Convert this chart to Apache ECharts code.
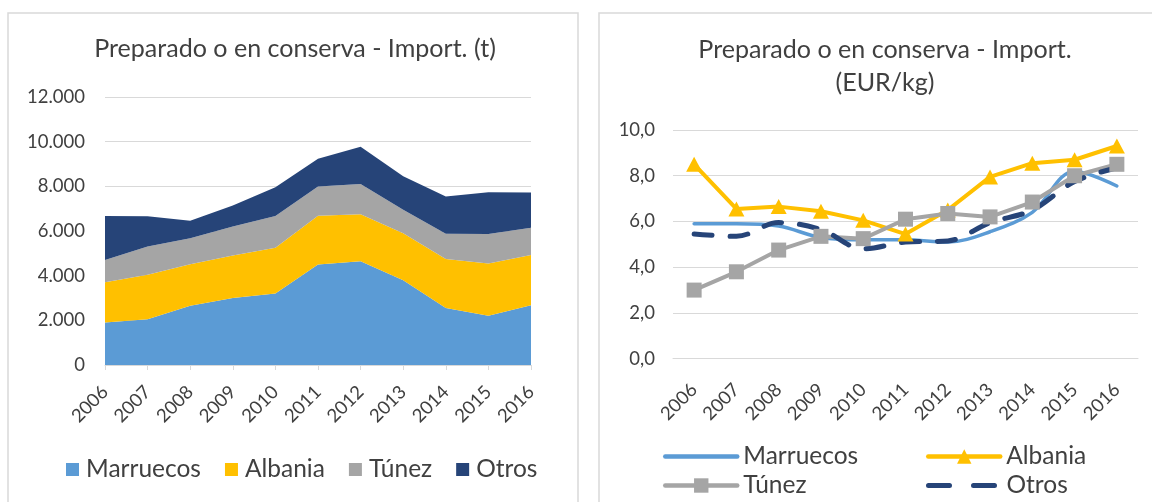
<!DOCTYPE html>
<html>
<head>
<meta charset="utf-8">
<script src="https://cdn.jsdelivr.net/npm/echarts@6/dist/echarts.min.js"></script>
<style>
html,body{margin:0;padding:0;background:#fff;}
#wrap{position:relative;width:1152px;height:502px;}
.layer{position:absolute;left:0;top:0;width:1152px;height:502px;}
</style>
</head>
<body>
<div id="wrap"><div id="left" class="layer"></div><div id="right" class="layer"></div></div>
<script>
// ---- data ----
const years = ['2006','2007','2008','2009','2010','2011','2012','2013','2014','2015','2016'];
const seriesNames = ['Marruecos','Albania','Túnez','Otros'];

// Left chart: imports in tonnes (stacked area)
const tonMarruecos = [1900, 2050, 2650, 3000, 3200, 4500, 4650, 3800, 2550, 2200, 2680];
const tonAlbania   = [1800, 1990, 1860, 1900, 2050, 2180, 2100, 2100, 2200, 2350, 2250];
const tonTunez     = [1000, 1270, 1170, 1300, 1420, 1310, 1350, 1050, 1130, 1320, 1210];
const tonOtros     = [1970, 1345,  780,  940, 1290, 1240, 1670, 1500, 1670, 1870, 1580];

// Right chart: price EUR/kg
const eurMarruecos = [5.9, 5.9, 5.8, 5.3, 5.2, 5.2, 5.1, 5.55, 6.4, 8.2, 7.55];
const eurAlbania   = [8.5, 6.55, 6.65, 6.45, 6.05, 5.45, 6.5, 7.95, 8.55, 8.7, 9.3];
const eurTunez     = [3.0, 3.8, 4.75, 5.35, 5.25, 6.1, 6.35, 6.2, 6.85, 8.0, 8.5];
const eurOtros     = [5.45, 5.35, 5.95, 5.65, 4.8, 5.1, 5.15, 5.95, 6.5, 7.75, 8.35];

const leftTitle = 'Preparado o en conserva - Import. (t)';
const rightTitle1 = 'Preparado o en conserva - Import.';
const rightTitle2 = '(EUR/kg)';

// ---- styling ----
const FONT = 'Lato';
const colors = ['#5B9BD5', '#FFC000', '#A5A5A5', '#264478'];
const textColor = '#404040';
const gridColor = '#D9D9D9';

function fitSize(text, width) {
  const ctx = document.createElement('canvas').getContext('2d');
  ctx.font = '100px ' + FONT;
  return width / ctx.measureText(text).width * 100;
}
const titleSize = fitSize(leftTitle, 402);
const legendSize = fitSize('Marruecos', 115);
const axisSize = fitSize('12.000', 58);

function titleText(text, x, y) {
  return {type: 'text', x: x, y: y,
    style: {text: text, fontFamily: FONT, fontSize: titleSize, fill: textColor, align: 'center', verticalAlign: 'middle'}};
}

// ---------- left chart ----------
const leftChart = echarts.init(document.getElementById('left'), null, {renderer: 'canvas'});
const areaSeries = [tonMarruecos, tonAlbania, tonTunez, tonOtros].map((d, i) => ({
  name: seriesNames[i], type: 'line', stack: 'ton', data: d, symbol: 'none',
  lineStyle: {width: 0}, areaStyle: {color: colors[i], opacity: 1}, itemStyle: {color: colors[i]}
}));
leftChart.setOption({
  animation: false,
  backgroundColor: 'transparent',
  color: colors,
  graphic: [
    {type: 'rect', z: -10, shape: {x: 8, y: 13, width: 570, height: 500},
     style: {fill: '#fff', stroke: gridColor, lineWidth: 1.5}},
    titleText(leftTitle, 295, 49)
  ],
  legend: {data: seriesNames, left: 61, top: 452, icon: 'rect', itemWidth: 13, itemHeight: 13, itemGap: 24,
    selectedMode: false,
    textStyle: {fontFamily: FONT, fontSize: legendSize, color: textColor, padding: [0, 0, 0, 2]}},
  grid: {left: 105, right: 1152 - 531, top: 97, bottom: 502 - 365},
  xAxis: {type: 'category', data: years, boundaryGap: false,
    axisLine: {lineStyle: {color: gridColor, width: 1}},
    axisTick: {show: true, length: 5, lineStyle: {color: gridColor}},
    axisLabel: {rotate: 45, margin: 24, color: textColor, fontFamily: FONT, fontSize: axisSize, interval: 0}},
  yAxis: {type: 'value', min: 0, max: 12000, interval: 2000,
    axisLine: {show: false}, axisTick: {show: false},
    splitLine: {lineStyle: {color: gridColor, width: 1}},
    axisLabel: {margin: 20, color: textColor, fontFamily: FONT, fontSize: axisSize,
      formatter: v => v === 0 ? '0' : String(v).replace(/\B(?=(\d{3})+(?!\d))/g, '.')}},
  series: areaSeries
});

// ---------- right chart ----------
const rightChart = echarts.init(document.getElementById('right'), null, {renderer: 'canvas'});
function lineLegend(name, left, top, lineStyle, hideSymbol) {
  const lg = {
    data: [name], left: left, top: top, itemWidth: 72, itemHeight: 18,
    selectedMode: false, lineStyle: lineStyle,
    textStyle: {fontFamily: FONT, fontSize: legendSize, color: textColor, padding: [0, 0, 0, 1]}
  };
  if (hideSymbol) lg.itemStyle = {opacity: 0, color: 'transparent', borderWidth: 0};
  return lg;
}
rightChart.setOption({
  animation: false,
  backgroundColor: 'transparent',
  color: colors,
  graphic: [
    {type: 'rect', z: -10, shape: {x: 599, y: 13, width: 570, height: 500},
     style: {fill: '#fff', stroke: gridColor, lineWidth: 1.5}},
    titleText(rightTitle1, 885, 50),
    titleText(rightTitle2, 885, 83)
  ],
  legend: [
    lineLegend('Marruecos', 658, 439, {width: 4.5, cap: 'round', opacity: 1}, true),
    lineLegend('Albania', 921, 439, {width: 4.5, cap: 'round'}),
    lineLegend('Túnez', 658, 468, {width: 4.5, cap: 'round'}),
    lineLegend('Otros', 921, 468, {width: 5, type: [21, 24], cap: 'round', opacity: 1}, true)
  ],
  grid: {left: 673, right: 1152 - 1138, top: 130, bottom: 502 - 358.7},
  xAxis: {type: 'category', data: years, boundaryGap: true,
    axisLine: {lineStyle: {color: gridColor, width: 1}},
    axisTick: {show: false},
    axisLabel: {rotate: 45, margin: 28, color: textColor, fontFamily: FONT, fontSize: axisSize, interval: 0}},
  yAxis: {type: 'value', min: 0, max: 10, interval: 2,
    axisLine: {show: false}, axisTick: {show: false},
    splitLine: {lineStyle: {color: gridColor, width: 1}},
    axisLabel: {margin: 18, color: textColor, fontFamily: FONT, fontSize: axisSize,
      formatter: v => v.toFixed(1).replace('.', ',')}},
  series: [
    {name: 'Marruecos', type: 'line', data: eurMarruecos,
     symbol: 'none', smooth: 0.35, lineStyle: {color: colors[0], width: 3.5, cap: 'round', join: 'round'},
     itemStyle: {color: colors[0]}},
    {name: 'Albania', type: 'line', data: eurAlbania,
     symbol: 'triangle', symbolSize: [16, 15], lineStyle: {color: colors[1], width: 4, join: 'round'},
     itemStyle: {color: colors[1]}},
    {name: 'Túnez', type: 'line', data: eurTunez,
     symbol: 'rect', symbolSize: 15, lineStyle: {color: colors[2], width: 4, join: 'round'},
     itemStyle: {color: colors[2]}},
    {name: 'Otros', type: 'line', data: eurOtros,
     symbol: 'none', smooth: 0.35, lineStyle: {color: colors[3], width: 5, type: [18, 18], cap: 'round', join: 'round'},
     itemStyle: {color: colors[3]}}
  ]
});
</script>
</body>
</html>
